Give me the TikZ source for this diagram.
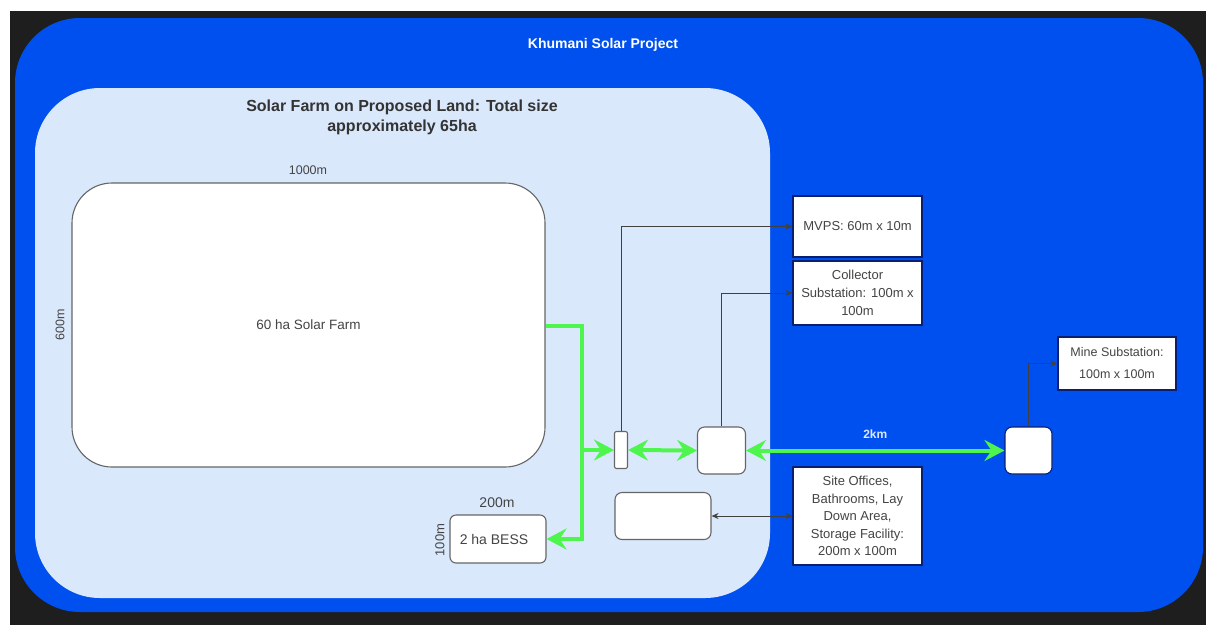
\documentclass[tikz,border=0pt]{standalone}
\usepackage{fontspec}
\setmainfont{Liberation Sans}
\usetikzlibrary{arrows.meta}
\definecolor{bigblue}{HTML}{0050EF}
\definecolor{paleblue}{HTML}{DAE8FC}
\definecolor{framedark}{HTML}{1E1E1E}
\definecolor{lgreen}{HTML}{4DF54D}
\definecolor{boxgray}{HTML}{666666}
\definecolor{navy}{HTML}{0A1F6E}
\definecolor{txtgray}{HTML}{444444}
\tikzset{
  wbox/.style={fill=white, draw=boxgray, line width=1.1pt, inner sep=0pt, text=txtgray, font=\fontsize{13}{17}\selectfont, align=center},
  nbox/.style={fill=white, draw=navy, line width=1.1pt, inner sep=0pt, text=txtgray, font=\fontsize{13}{18}\selectfont, align=center},
  dimtxt/.style={text=txtgray, font=\fontsize{12.5}{15}\selectfont, inner sep=0pt},
  gline/.style={draw=lgreen, line width=4pt, line join=miter},
  garrow/.style={-{Stealth[length=20pt,width=21pt,inset=7pt]}},
  gboth/.style={{Stealth[length=20pt,width=21pt,inset=7pt]}-{Stealth[length=20pt,width=21pt,inset=7pt]}},
  bline/.style={draw=black!75, line width=1pt, -{Stealth[length=7pt,width=6pt]}},
}
\begin{document}
\begin{tikzpicture}[x=1pt,y=-1pt]
\useasboundingbox (0,0) rectangle (1206,625);
\fill[white] (0,0) rectangle (1206,625);
\fill[framedark] (10,11) rectangle (1206,625);
% outer project area
\node (outer) [fill=bigblue, rounded corners=65pt, minimum width=1188pt, minimum height=594pt, inner sep=0pt] at (609,315) {};
\node (title) [text=white, font=\bfseries\fontsize{14}{16}\selectfont] at (603,45) {Khumani Solar Project};
% proposed land
\node (land) [fill=paleblue, rounded corners=65pt, minimum width=735pt, minimum height=510pt, inner sep=0pt] at (402.5,343) {};
\node (subtitle) [text=black!80, font=\bfseries\fontsize{16}{20}\selectfont, align=center] at (402,117) {Solar Farm on Proposed Land: Total size\\approximately 65ha};
% solar farm
\node (farm) [wbox, rounded corners=40pt, minimum width=473pt, minimum height=284pt, font=\fontsize{13.5}{16}\selectfont] at (308.5,325) {60 ha Solar Farm};
\node (d1000) [dimtxt] at (308,170) {1000m};
\node (d600) [dimtxt, rotate=90] at (60,325) {600m};
% BESS
\node (bess) [wbox, rounded corners=6pt, minimum width=96pt, minimum height=48pt, font=\fontsize{14}{16}\selectfont] at (498,539) {2 ha BESS\hspace{8pt}};
\node (d200) [dimtxt, font=\fontsize{14}{16}\selectfont] at (497,503) {200m};
\node (d100) [dimtxt, font=\fontsize{13}{15}\selectfont, rotate=90] at (440,540) {100m};
% small equipment shapes
\node (mv) [wbox, rounded corners=2pt, minimum width=13pt, minimum height=37pt] at (621,450) {};
\node (sub1) [wbox, rounded corners=7pt, minimum width=48pt, minimum height=47pt] at (721.5,450.5) {};
\node (sub2) [nbox, rounded corners=7pt, minimum width=47pt, minimum height=47pt] at (1028.5,450.5) {};
\node (office) [wbox, rounded corners=7pt, minimum width=96pt, minimum height=47pt] at (663,516) {};
% label boxes
\node (mvps) [nbox, minimum width=129pt, minimum height=61pt] at (857.5,226.5) {MVPS: 60m x 10m};
\node (coll) [nbox, minimum width=129pt, minimum height=64pt] at (857.5,293) {Collector\\Substation: 100m x\\100m};
\node (mine) [nbox, minimum width=118pt, minimum height=53pt, font=\fontsize{12.5}{22}\selectfont] at (1117,363.5) {Mine Substation:\\100m x 100m};
\node (site) [nbox, minimum width=129pt, minimum height=98pt, font=\fontsize{13}{17.5}\selectfont] at (857.5,516) {Site Offices,\\Bathrooms, Lay\\Down Area,\\Storage Facility:\\200m x 100m};
% green power lines
\coordinate (j1) at (582,326);
\coordinate (j2) at (582,450);
\draw[gline, garrow] (farm.east |- j1) -- (j1) |- (bess.east);
\draw[gline, garrow] (j2) -- (mv.west);
\draw[gline, gboth] (mv.east) -- (sub1.west);
\draw[gline, gboth] (sub1.east) -- (sub2.west) node[midway, above=7pt, text=paleblue, font=\bfseries\fontsize{12}{14}\selectfont] {2km};
% black connectors
\draw[bline] (mv.north) |- (mvps.west);
\draw[bline] (sub1.north) |- (coll.west);
\draw[bline] (sub2.north) |- (mine.west);
\draw[bline, {Stealth[length=7pt,width=6pt]}-{Stealth[length=7pt,width=6pt]}] (office.east) -- (site.west);
\end{tikzpicture}
\end{document}
